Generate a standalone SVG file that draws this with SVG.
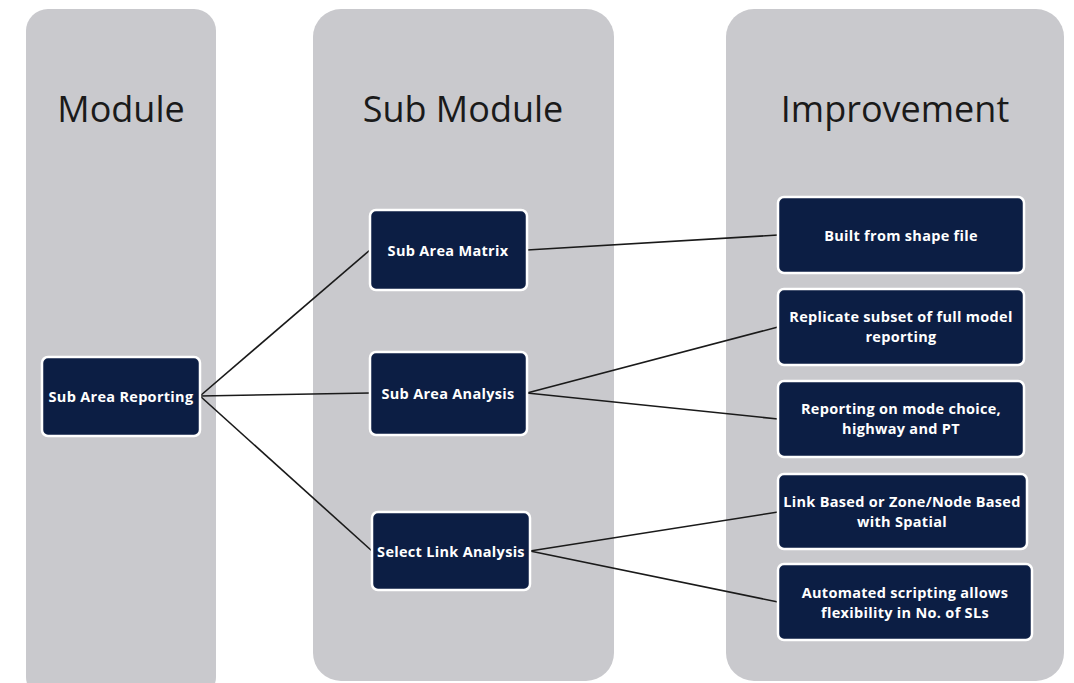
<svg xmlns="http://www.w3.org/2000/svg" width="1074" height="683" viewBox="0 0 1074 683">
  <style>
    .panel { fill: #c9c9cd; }
    .title { font-family: "Open Sans", "Liberation Sans", sans-serif; font-size: 36px; fill: #1a1a1a; text-anchor: middle; }
    .box { fill: #0c1e44; stroke: #ffffff; stroke-width: 2.5; }
    .lbl { font-family: "Open Sans", "Liberation Sans", sans-serif; font-size: 14.5px; font-weight: bold; letter-spacing: 0.3px; fill: #ffffff; text-anchor: middle; }
    .link { stroke: #1a1a1a; stroke-width: 1.6; fill: none; }
  </style>
  <rect width="1074" height="683" fill="#ffffff"/>

  <!-- column panels -->
  <g id="col-module">
    <rect class="panel" x="26" y="9" width="190" height="690" rx="22"/>
    <text class="title" x="121" y="122">Module</text>
  </g>
  <g id="col-submodule">
    <rect class="panel" x="313" y="9" width="301" height="672" rx="28"/>
    <text class="title" x="463" y="122">Sub Module</text>
  </g>
  <g id="col-improvement">
    <rect class="panel" x="726" y="9" width="338" height="672" rx="28"/>
    <text class="title" x="895" y="122">Improvement</text>
  </g>

  <!-- connectors -->
  <g id="connectors">
    <line class="link" x1="200" y1="396" x2="370" y2="250"/>
    <line class="link" x1="200" y1="396" x2="370" y2="393"/>
    <line class="link" x1="200" y1="396" x2="372" y2="551"/>
    <line class="link" x1="527" y1="250" x2="778" y2="235"/>
    <line class="link" x1="527" y1="393" x2="778" y2="327"/>
    <line class="link" x1="527" y1="393" x2="778" y2="419"/>
    <line class="link" x1="530" y1="551" x2="778" y2="512"/>
    <line class="link" x1="530" y1="551" x2="778" y2="602"/>
  </g>

  <!-- module -->
  <g id="n-sub-area-reporting">
    <rect class="box" x="42" y="357" width="158" height="79" rx="6"/>
    <text class="lbl" x="121" y="402">Sub Area Reporting</text>
  </g>

  <!-- sub modules -->
  <g id="n-sub-area-matrix">
    <rect class="box" x="370" y="210" width="157" height="80" rx="6"/>
    <text class="lbl" x="448" y="256">Sub Area Matrix</text>
  </g>
  <g id="n-sub-area-analysis">
    <rect class="box" x="370" y="352" width="157" height="83" rx="6"/>
    <text class="lbl" x="448" y="399">Sub Area Analysis</text>
  </g>
  <g id="n-select-link-analysis">
    <rect class="box" x="372" y="512" width="158" height="78" rx="6"/>
    <text class="lbl" x="451" y="557">Select Link Analysis</text>
  </g>

  <!-- improvements -->
  <g id="n-built-from-shape">
    <rect class="box" x="778" y="197" width="246" height="76" rx="6"/>
    <text class="lbl" x="901" y="241">Built from shape file</text>
  </g>
  <g id="n-replicate-subset">
    <rect class="box" x="778" y="289" width="246" height="76" rx="6"/>
    <text class="lbl" x="901" y="322">Replicate subset of full model</text>
    <text class="lbl" x="901" y="342">reporting</text>
  </g>
  <g id="n-reporting-mode">
    <rect class="box" x="778" y="381" width="246" height="76" rx="6"/>
    <text class="lbl" x="901" y="414">Reporting on mode choice,</text>
    <text class="lbl" x="901" y="434">highway and PT</text>
  </g>
  <g id="n-link-based">
    <rect class="box" x="778" y="474" width="249" height="75" rx="6"/>
    <text class="lbl" x="902" y="507">Link Based or Zone/Node Based</text>
    <text class="lbl" x="902" y="527">with Spatial</text>
  </g>
  <g id="n-automated-scripting">
    <rect class="box" x="778" y="564" width="254" height="76" rx="6"/>
    <text class="lbl" x="905" y="598">Automated scripting allows</text>
    <text class="lbl" x="905" y="618">flexibility in No. of SLs</text>
  </g>
</svg>
